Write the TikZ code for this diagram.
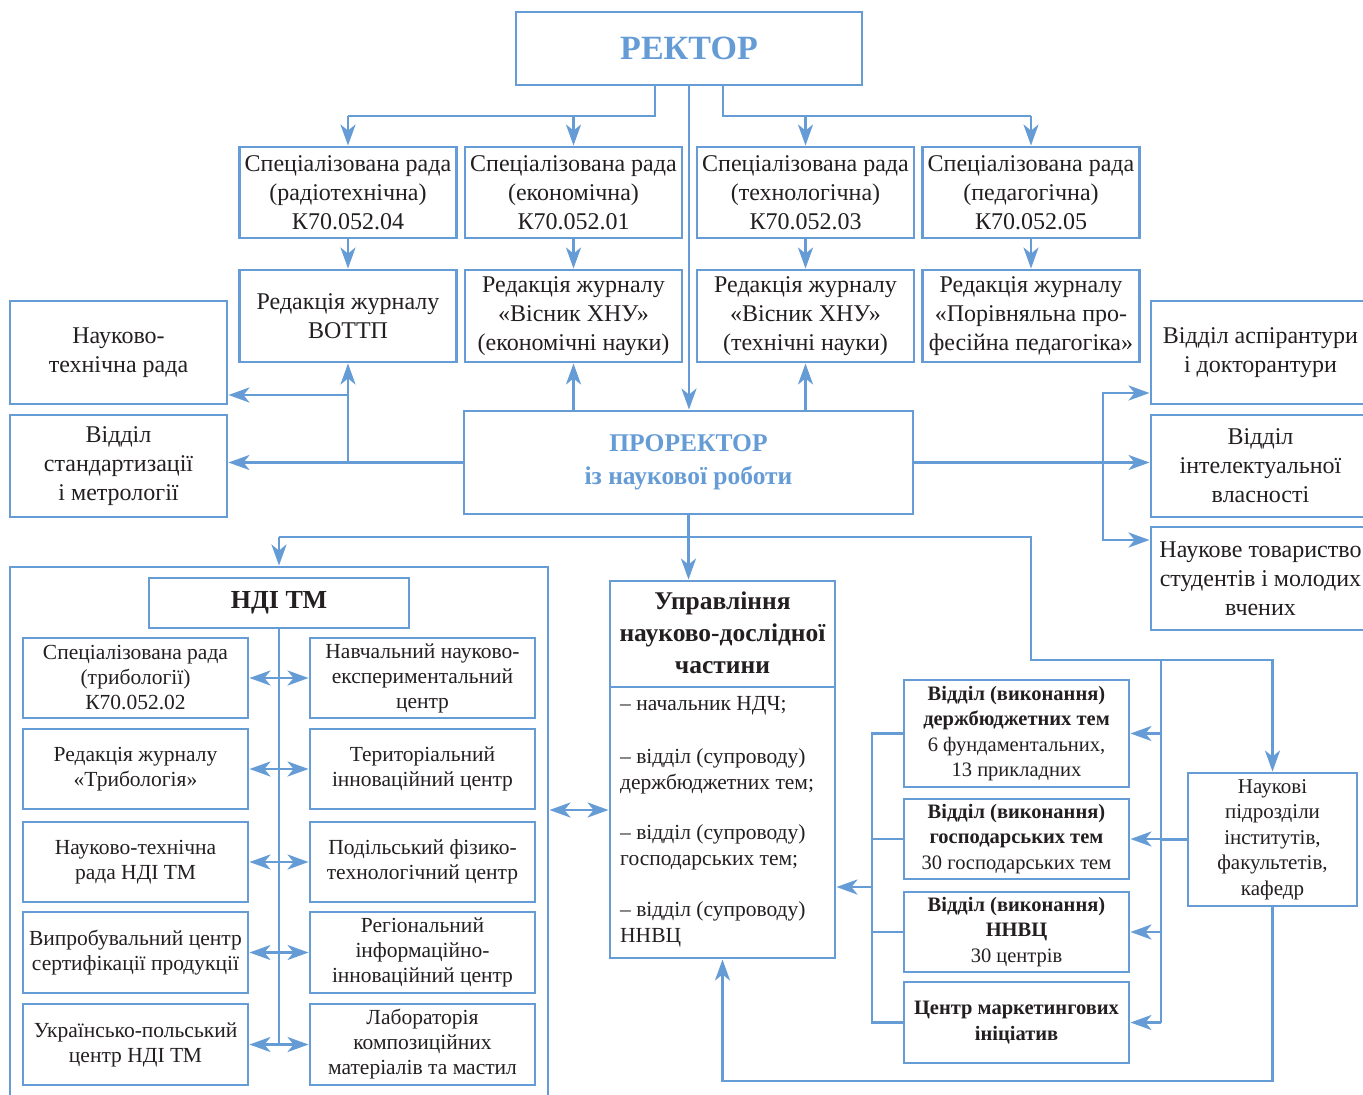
\documentclass[tikz,border=0pt]{standalone}
\usepackage{fontspec}
\setmainfont{Liberation Serif}
\usetikzlibrary{arrows.meta}
\definecolor{bl}{RGB}{102,156,214}
\definecolor{tx}{RGB}{35,31,32}
\newcommand\fsz[2]{\fontsize{#1}{#2}\selectfont}
\begin{document}
\begin{tikzpicture}[x=1pt,y=-1pt,
  box/.style={draw=bl,line width=2.9pt,align=center,inner sep=0pt,text=tx},
  ln/.style={draw=bl,line width=2.9pt},
  arr/.style={ln,-{Stealth[length=21pt,width=15pt,inset=6pt]}},
  darr/.style={ln,{Stealth[length=21pt,width=15pt,inset=6pt]}-{Stealth[length=21pt,width=15pt,inset=6pt]}},
  srbox/.style={box,minimum width=217pt,minimum height=91pt,font=\fsz{24}{29}},
  jbox/.style={box,minimum width=217pt,minimum height=92pt,font=\fsz{24}{29}},
  sidebox/.style={box,minimum width=217pt,minimum height=103pt,font=\fsz{24}{29}},
  inbox/.style={box,minimum width=225pt,minimum height=80pt,font=\fsz{21.5}{25}},
  vvbox/.style={box,minimum width=225pt,minimum height=80pt,font=\fsz{20.5}{25.5}},
  plain/.style={inner sep=0pt,text=tx}
]
\useasboundingbox (0,0) rectangle (1363,1095);

% top
\node[box,minimum width=346pt,minimum height=73pt,font=\fsz{34}{40}\bfseries,text=bl] (rector) at (689,48.5) {РЕКТОР};

\node[srbox] (sr1) at (348,192.5) {Спеціалізована рада\\(радіотехнічна)\\К70.052.04};
\node[srbox] (sr2) at (573.5,192.5) {Спеціалізована рада\\(економічна)\\К70.052.01};
\node[srbox] (sr3) at (805.5,192.5) {Спеціалізована рада\\(технологічна)\\К70.052.03};
\node[srbox] (sr4) at (1031,192.5) {Спеціалізована рада\\(педагогічна)\\К70.052.05};

\node[jbox] (j1) at (348,316) {Редакція журналу\\ВОТТП};
\node[jbox] (j2) at (573.5,316) {Редакція журналу\\«Вісник ХНУ»\\(економічні науки)};
\node[jbox] (j3) at (805.5,316) {Редакція журналу\\«Вісник ХНУ»\\(технічні науки)};
\node[jbox] (j4) at (1031,316) {Редакція журналу\\«Порівняльна про-\\фесійна педагогіка»};

\node[sidebox] (ntr) at (118.5,352.5) {Науково-\\технічна рада};
\node[sidebox,minimum height=102pt] (vsm) at (118.5,466) {Відділ\\стандартизації\\і метрології};

\node[box,minimum width=449pt,minimum height=103pt,font=\fsz{25.5}{33}\bfseries,text=bl] (pro) at (688.5,462.5) {ПРОРЕКТОР\\із наукової роботи};

\node[sidebox,minimum width=219pt] (asp) at (1260.5,352.5) {Відділ аспірантури\\і докторантури};
\node[sidebox,minimum width=219pt,minimum height=102pt] (iv) at (1260.5,466) {Відділ\\інтелектуальної\\власності};
\node[sidebox,minimum width=219pt] (nt) at (1260.5,578.5) {Наукове товариство\\студентів і молодих\\вчених};

% NDI TM
\node[box,minimum width=538pt,minimum height=543pt] (ndibig) at (279,838.5) {};
\node[box,minimum width=260pt,minimum height=50pt,font=\fsz{26}{30}\bfseries] (nditm) at (279,603) {НДІ ТМ};

\node[inbox] (L1) at (135.5,678) {Спеціалізована рада\\(трибології)\\К70.052.02};
\node[inbox] (R1) at (422.5,678) {Навчальний науково-\\експериментальний\\центр};
\node[inbox] (L2) at (135.5,769) {Редакція журналу\\«Трибологія»};
\node[inbox] (R2) at (422.5,769) {Територіальний\\інноваційний центр};
\node[inbox] (L3) at (135.5,862) {Науково-технічна\\рада НДІ ТМ};
\node[inbox] (R3) at (422.5,862) {Подільський фізико-\\технологічний центр};
\node[inbox,minimum height=81pt] (L4) at (135.5,952.5) {Випробувальний центр\\сертифікації продукції};
\node[inbox,minimum height=81pt] (R4) at (422.5,952.5) {Регіональний\\інформаційно-\\інноваційний центр};
\node[inbox,minimum height=81pt] (L5) at (135.5,1044.5) {Українсько-польський\\центр НДІ ТМ};
\node[inbox,minimum height=81pt] (R5) at (422.5,1044.5) {Лабораторія\\композиційних\\матеріалів та мастил};

% Upravlinnia
\node[box,minimum width=225pt,minimum height=377pt] (upr) at (722.5,769.5) {};
\node[plain,align=center,font=\fsz{25.5}{32}\bfseries] (ut) at (722.5,633) {Управління\\науково-дослідної\\частини};
\node[plain,anchor=west,font=\fsz{21.5}{26}] (li1) at (620,706) {– начальник НДЧ;};
\node[plain,anchor=west,align=left,font=\fsz{21.5}{26}] (li2) at (620,771) {– відділ (супроводу)\\держбюджетних тем;};
\node[plain,anchor=west,align=left,font=\fsz{21.5}{26}] (li3) at (620,847) {– відділ (супроводу)\\господарських тем;};
\node[plain,anchor=west,align=left,font=\fsz{21.5}{26}] (li4) at (620,924.5) {– відділ (супроводу)\\ННВЦ};

% right departments
\node[vvbox,minimum height=107pt] (vv1) at (1016.5,733.5) {\textbf{Відділ (виконання)}\\\textbf{держбюджетних тем}\\6 фундаментальних,\\13 прикладних};
\node[vvbox] (vv2) at (1016.5,839) {\textbf{Відділ (виконання)}\\\textbf{господарських тем}\\30 господарських тем};
\node[vvbox] (vv3) at (1016.5,932) {\textbf{Відділ (виконання)}\\\textbf{ННВЦ}\\30 центрів};
\node[vvbox,minimum height=81pt] (vv4) at (1016.5,1022.5) {\textbf{Центр маркетингових}\\\textbf{ініціатив}};
\node[box,minimum width=169pt,minimum height=133pt,font=\fsz{21}{25.5}] (np) at (1272.5,839.5) {Наукові\\підрозділи\\інститутів,\\факультетів,\\кафедр};

% helper coordinates
\coordinate (hl) at (0,116);
\coordinate (hb) at (0,537);
\coordinate (ny) at (0,395);
\coordinate (jx) at (1103,0);
\coordinate (vx) at (1161,0);
\coordinate (lx) at (872,0);
\coordinate (cR) at (1031,660);
\coordinate (bb) at (0,1081);
\coordinate (my) at (0,887);
\coordinate (dy) at (0,810);
\coordinate (dv) at (0,687);

% connectors from rector
\draw[ln] ([xshift=-34pt]rector.south) |- (sr1.north |- hl);
\draw[arr] (sr1.north |- hl) -- (sr1.north);
\draw[arr] (sr2.north |- hl) -- (sr2.north);
\draw[ln] ([xshift=34pt]rector.south) |- (sr4.north |- hl);
\draw[arr] (sr3.north |- hl) -- (sr3.north);
\draw[arr] (sr4.north |- hl) -- (sr4.north);
\draw[arr] (rector.south) -- (rector.south |- pro.north);
\foreach \i in {1,2,3,4} {\draw[arr] (sr\i.south) -- (j\i.north);}

% from prorector
\draw[arr] (pro.west) -- (pro.west -| vsm.east);
\draw[arr] (pro.west -| j1.south) -- (j1.south);
\draw[arr] (j1.south |- ny) -- (ntr.east |- ny);
\draw[arr] (pro.north -| j2.south) -- (j2.south);
\draw[arr] (pro.north -| j3.south) -- (j3.south);
\draw[arr] (pro.east) -- (pro.east -| iv.west);
\draw[arr] (pro.east -| jx) |- ([yshift=-40.5pt]asp.west);
\draw[arr] (pro.east -| jx) |- ([yshift=38.5pt]nt.west);

\draw[ln] (pro.south) -- (pro.south |- hb);
\draw[arr] (pro.south |- hb) -- (pro.south |- upr.north);
\draw[arr] (nditm.north |- hb) -- (nditm.north |- ndibig.north);
\draw[arr] (nditm.north |- hb) -| (cR) -| (np.north);

% right bus
\draw[ln] (cR -| vx) -- (vv4.east -| vx);
\foreach \i in {1,2,3,4} {\draw[arr] (vv\i.east -| vx) -- (vv\i.east);}
\draw[ln] (np.west) -- (np.west -| vx);

% left bus
\draw[ln] (vv1.west) -| (lx |- vv4.west) -- (vv4.west);
\draw[ln] (vv2.west) -- (vv2.west -| lx);
\draw[ln] (vv3.west) -- (vv3.west -| lx);
\draw[arr] (lx |- my) -- (upr.east |- my);

% bottom return
\draw[arr] (np.south) |- (upr.south |- bb) -- (upr.south);

% upr divider & NDI link
\draw[ln] (upr.west |- dv) -- (upr.east |- dv);
\draw[darr] (ndibig.east |- dy) -- (upr.west |- dy);

% NDI inner
\draw[ln] (nditm.south) -- (nditm.south |- L5.east);
\foreach \i in {1,2,3,4,5} {\draw[darr] (L\i.east) -- (R\i.west);}
\end{tikzpicture}
\end{document}
